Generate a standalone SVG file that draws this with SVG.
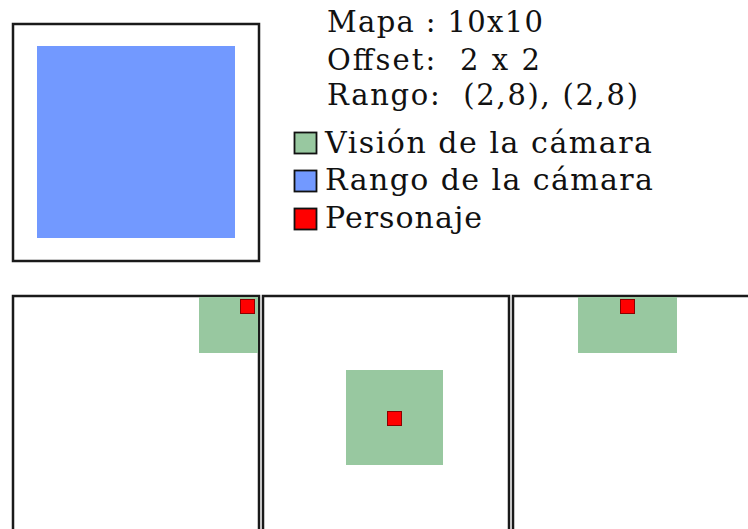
<svg xmlns="http://www.w3.org/2000/svg" width="748" height="529" viewBox="0 0 748 529">
<style>
.frame{fill:#fff;stroke:#1a1a1a;stroke-width:2.5}
.range{fill:#7299ff}
.view{fill:#98c8a0}
.pj{fill:#ff0000;stroke:#8a0000;stroke-width:1}
.lbl{font-family:"DejaVu Serif","Liberation Serif",serif;fill:#111}
.t1{font-size:29px}
.t2{font-size:30px}
.key{stroke:#111;stroke-width:1.8}
</style>
<rect width="748" height="529" fill="#fff"/>
<g id="overview">
<rect class="frame" x="13" y="24" width="246" height="237"/>
<rect class="range" x="37" y="46" width="198" height="192"/>
</g>
<g id="info">
<text class="lbl t1" x="327" y="32" textLength="216" lengthAdjust="spacing">Mapa : 10x10</text>
<text class="lbl t1" x="327" y="70" textLength="213" lengthAdjust="spacing" xml:space="preserve">Offset:  2 x 2</text>
<text class="lbl t1" x="327" y="105" textLength="311" lengthAdjust="spacing" xml:space="preserve">Rango:  (2,8), (2,8)</text>
</g>
<g id="legend">
<rect class="key view" x="294.5" y="132.5" width="22" height="21"/>
<text class="lbl t2" x="325" y="153" textLength="327" lengthAdjust="spacing">Visión de la cámara</text>
<rect class="key range" x="294.5" y="170.5" width="22" height="21"/>
<text class="lbl t2" x="325" y="190" textLength="328" lengthAdjust="spacing">Rango de la cámara</text>
<rect class="key" fill="#ff0000" x="294.5" y="208.5" width="22" height="21"/>
<text class="lbl t2" x="325" y="228" textLength="157" lengthAdjust="spacing">Personaje</text>
</g>
<g id="map1">
<rect class="frame" x="13" y="296" width="246" height="260"/>
<rect class="view" x="199" y="297" width="59" height="56"/>
<rect class="pj" x="240.5" y="299.5" width="14" height="14"/>
</g>
<g id="map2">
<rect class="frame" x="263" y="296" width="246" height="260"/>
<rect class="view" x="346" y="370" width="97" height="95"/>
<rect class="pj" x="387.5" y="411.5" width="14" height="14"/>
</g>
<g id="map3">
<rect class="frame" x="513" y="296" width="246" height="260"/>
<rect class="view" x="578" y="297" width="99" height="56"/>
<rect class="pj" x="620.5" y="299.5" width="14" height="14"/>
</g>
</svg>
